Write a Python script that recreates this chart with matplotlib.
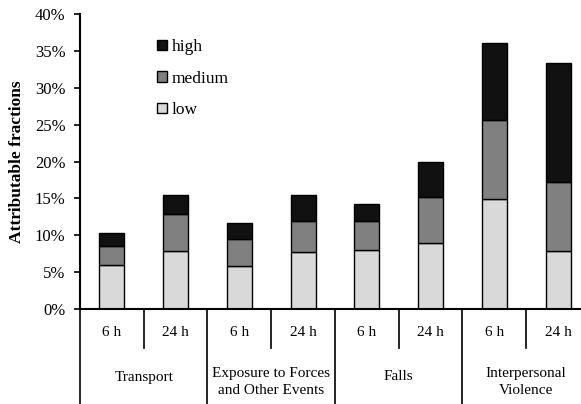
import matplotlib
matplotlib.use("Agg")
import matplotlib.pyplot as plt
from matplotlib.patches import Patch
import matplotlib.transforms as mtrans

groups = ["Transport", "Exposure to Forces\nand Other Events", "Falls", "Interpersonal\nViolence"]
windows = ["6 h", "24 h"]
low = [6.0, 7.9, 5.8, 7.7, 8.0, 8.9, 14.9, 7.9]
medium = [2.5, 5.0, 3.7, 4.2, 4.0, 6.3, 10.7, 9.3]
high = [1.8, 2.5, 2.1, 3.5, 2.2, 4.7, 10.5, 16.1]
yticks = [0, 5, 10, 15, 20, 25, 30, 35, 40]

plt.rcParams['font.family'] = ['Liberation Serif', 'DejaVu Serif']

W, H = 581, 404
fig = plt.figure(figsize=(W/100, H/100), dpi=100)
x0, x1, y0, y1 = 80, 590, 309, 14
ax = fig.add_axes([x0/W, (H-y0)/H, (x1-x0)/W, (y0-y1)/H])

n = len(low)
xs = list(range(n))
bw = 0.39
bot2 = [a + b for a, b in zip(low, medium)]
ax.bar(xs, low, bw, color="#d9d9d9", edgecolor="black", linewidth=1.0, label="low")
ax.bar(xs, medium, bw, bottom=low, color="#808080", edgecolor="black", linewidth=1.0, label="medium")
ax.bar(xs, high, bw, bottom=bot2, color="#111111", edgecolor="black", linewidth=1.0, label="high")

ax.set_xlim(-0.5, n - 0.5)
ax.set_ylim(0, 40)
ax.set_yticks(yticks)
ax.set_yticklabels([f"{t}%" for t in yticks], fontsize=12)
ax.tick_params(axis='y', direction='out', length=4.5, width=1.2, pad=6)
ax.set_xticks([])
for s in ["top", "right"]:
    ax.spines[s].set_visible(False)
ax.spines["left"].set_linewidth(1.5)
ax.spines["bottom"].set_linewidth(1.5)
ax.set_ylabel("Attributable fractions", fontsize=12.5, fontweight="bold")
ax.yaxis.set_label_coords((25 - x0) / (x1 - x0), 0.5)

tr = mtrans.blended_transform_factory(ax.transData, ax.transAxes)
px = 1.0 / (y0 - y1)
sub_bottom = -(348 - y0) * px
grp_bottom = -(406 - y0) * px
for k in range(n + 1):
    xb = k - 0.5
    yb = grp_bottom if k % 2 == 0 else sub_bottom
    ax.plot([xb, xb], [0, yb], color="black", lw=1.2, transform=tr, clip_on=False)
for i in xs:
    ax.text(i, -(333 - y0) * px, windows[i % 2], transform=tr, ha="center", va="center", fontsize=11)
for g, name in enumerate(groups):
    yc = 377 if "\n" not in name else 382
    ax.text(2 * g + 0.5, -(yc - y0) * px, name, transform=tr, ha="center", va="center",
            fontsize=11, linespacing=1.45)

handles = [Patch(facecolor="#111111", edgecolor="black", label="high"),
           Patch(facecolor="#808080", edgecolor="black", label="medium"),
           Patch(facecolor="#d9d9d9", edgecolor="black", label="low")]
ax.legend(handles=handles, loc="upper left", bbox_to_anchor=((157 - x0) / (x1 - x0), (y0 - 39) * px),
          frameon=False, fontsize=12.5, handlelength=0.55, handleheight=0.55, handletextpad=0.3,
          labelspacing=0.9, borderpad=0, borderaxespad=0)

fig.savefig("out.png", dpi=100)
